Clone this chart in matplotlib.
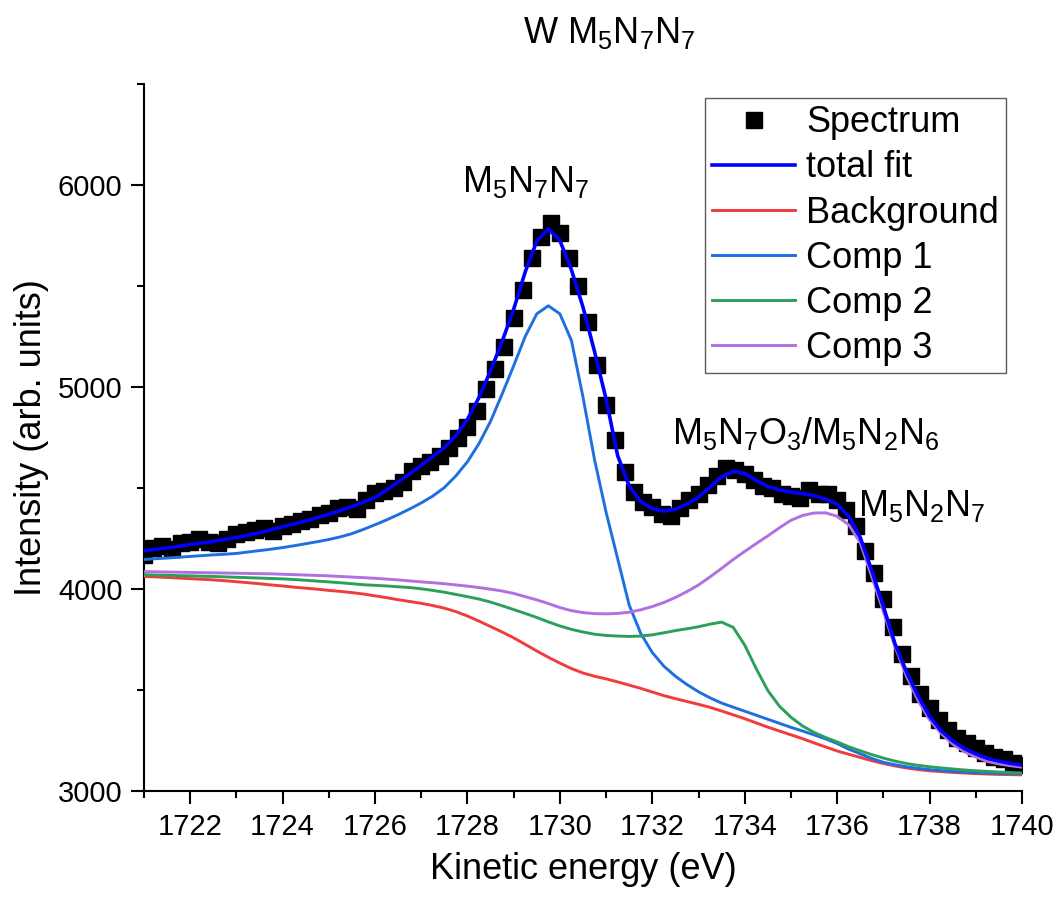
import matplotlib
matplotlib.use("Agg")
import matplotlib.pyplot as plt
import numpy as np

plt.rcParams['font.family'] = ['Liberation Sans', 'DejaVu Sans']
plt.rcParams['mathtext.default'] = 'regular'

# measured spectrum (0.2 eV steps)
energy_data = np.arange(1721.0, 1740.01, 0.2)
spectrum = [4170, 4205, 4215, 4200, 4230, 4235, 4245, 4235, 4230, 4245,
            4270, 4280, 4290, 4300, 4285, 4310, 4320, 4335, 4345, 4365,
            4375, 4400, 4405, 4395, 4440, 4475, 4485, 4500, 4530, 4585,
            4610, 4630, 4660, 4700, 4745, 4800, 4880, 4990, 5090, 5200,
            5340, 5480, 5640, 5740, 5810, 5760, 5640, 5500, 5320, 5110,
            4910, 4740, 4580, 4480, 4430, 4405, 4370, 4360, 4400, 4440,
            4470, 4515, 4560, 4600, 4590, 4570, 4540, 4510, 4500, 4470,
            4460, 4450, 4490, 4470, 4470, 4440, 4390, 4310, 4190, 4080,
            3950, 3810, 3680, 3570, 3480, 3410, 3350, 3300, 3260, 3240,
            3215, 3190, 3170, 3160, 3140, 3130]

# fit curves (0.25 eV steps)
energy_fit = np.arange(1721.0, 1740.01, 0.25)
total_fit = [4190, 4196, 4203, 4211, 4220, 4228, 4236, 4245, 4255, 4266,
             4278, 4293, 4308, 4322, 4337, 4353, 4370, 4388, 4408, 4430,
             4453, 4490, 4530, 4570, 4612, 4655, 4700, 4760, 4840, 4948,
             5080, 5225, 5385, 5570, 5722, 5782, 5725, 5580, 5395, 5175,
             4940, 4660, 4510, 4432, 4398, 4386, 4395, 4420, 4455, 4505,
             4555, 4582, 4572, 4537, 4508, 4490, 4480, 4472, 4462, 4445,
             4420, 4360, 4255, 4090, 3914, 3730, 3590, 3470, 3370, 3298,
             3248, 3210, 3184, 3162, 3148, 3137, 3128]
background = [4062, 4060, 4057, 4054, 4051, 4048, 4045, 4041, 4036, 4031,
              4026, 4020, 4015, 4009, 4004, 3999, 3993, 3988, 3982, 3975,
              3966, 3957, 3947, 3938, 3929, 3918, 3905, 3888, 3866, 3841,
              3814, 3787, 3758, 3726, 3693, 3662, 3633, 3606, 3584, 3568,
              3555, 3540, 3524, 3508, 3490, 3472, 3457, 3443, 3429, 3414,
              3396, 3377, 3358, 3337, 3316, 3297, 3278, 3259, 3238, 3218,
              3198, 3182, 3166, 3150, 3136, 3124, 3114, 3106, 3100, 3096,
              3092, 3089, 3086, 3084, 3082, 3081, 3080]
comp1 = [4146, 4150, 4153, 4157, 4161, 4165, 4169, 4172, 4176, 4183,
         4190, 4197, 4205, 4214, 4224, 4234, 4245, 4258, 4274, 4295,
         4318, 4342, 4368, 4396, 4426, 4460, 4502, 4560, 4630, 4720,
         4830, 4965, 5105, 5250, 5362, 5402, 5362, 5230, 4950, 4640,
         4380, 4150, 3920, 3780, 3685, 3618, 3568, 3527, 3491, 3461,
         3435, 3415, 3395, 3375, 3355, 3335, 3315, 3297, 3278, 3258,
         3235, 3207, 3184, 3161, 3142, 3130, 3120, 3112, 3106, 3101,
         3097, 3094, 3091, 3089, 3087, 3086, 3085]
comp2 = [4071, 4069, 4068, 4066, 4065, 4063, 4062, 4060, 4058, 4056,
         4054, 4052, 4050, 4047, 4043, 4039, 4035, 4031, 4026, 4021,
         4018, 4015, 4011, 4007, 4001, 3993, 3984, 3973, 3962, 3950,
         3935, 3917, 3898, 3879, 3859, 3837, 3817, 3800, 3787, 3776,
         3770, 3767, 3765, 3767, 3773, 3783, 3794, 3803, 3813, 3826,
         3836, 3810, 3722, 3605, 3497, 3420, 3365, 3322, 3290, 3265,
         3243, 3219, 3199, 3180, 3163, 3148, 3136, 3127, 3120, 3114,
         3109, 3104, 3100, 3097, 3094, 3091, 3089]
comp3 = [4086, 4085, 4084, 4083, 4082, 4081, 4080, 4079, 4078, 4077,
         4076, 4075, 4073, 4071, 4069, 4067, 4065, 4062, 4059, 4056,
         4053, 4049, 4045, 4040, 4035, 4031, 4026, 4020, 4014, 4007,
         3999, 3990, 3978, 3962, 3946, 3928, 3908, 3893, 3883, 3878,
         3877, 3879, 3885, 3897, 3913, 3933, 3958, 3987, 4020, 4060,
         4102, 4146, 4186, 4225, 4263, 4303, 4340, 4364, 4376, 4377,
         4360, 4318, 4228, 4060, 3888, 3715, 3568, 3448, 3352, 3285,
         3232, 3195, 3168, 3146, 3134, 3125, 3118]

fig = plt.figure(figsize=(10.57, 9.01), dpi=100)
ax = fig.add_axes([0.1362, 0.1221, 0.8307, 0.7847])

ax.plot(energy_data, spectrum, 's', color='black', markersize=11,
        label='Spectrum', zorder=2)
ax.plot(energy_fit, total_fit, color='#0000ff', lw=2.6, label='total fit', zorder=6)
ax.plot(energy_fit, background, color='#f03c3c', lw=2.1, label='Background', zorder=3)
ax.plot(energy_fit, comp1, color='#1f6fe0', lw=2.1, label='Comp 1', zorder=4)
ax.plot(energy_fit, comp2, color='#2ca05a', lw=2.1, label='Comp 2', zorder=4)
ax.plot(energy_fit, comp3, color='#b070e0', lw=2.1, label='Comp 3', zorder=5)

ax.set_xlim(1721, 1740)
ax.set_ylim(3000, 6500)
ax.set_xticks(np.arange(1722, 1741, 2))
ax.set_xticks(np.arange(1721, 1741, 1), minor=True)
ax.set_yticks([3000, 4000, 5000, 6000])
ax.set_yticks(np.arange(3000, 6501, 500), minor=True)

for s in ['top', 'right']:
    ax.spines[s].set_visible(False)
for s in ['left', 'bottom']:
    ax.spines[s].set_linewidth(1.5)
ax.tick_params(which='major', direction='out', length=9.5, width=1.5,
               labelsize=21, pad=6)
ax.tick_params(which='minor', direction='out', length=5, width=1.5)

ax.set_xlabel('Kinetic energy (eV)', fontsize=26, labelpad=8)
ax.set_ylabel('Intensity (arb. units)', fontsize=26, labelpad=6)

fig.text(609 / 1057, 1 - 43 / 901, 'W M$_5$N$_7$N$_7$', fontsize=26,
         ha='center', va='baseline')

ax.text(1729.25, 5965, 'M$_5$N$_7$N$_7$', fontsize=25.8, ha='center', va='baseline')
ax.text(1732.43, 4716, 'M$_5$N$_7$O$_3$/M$_5$N$_2$N$_6$', fontsize=25.8,
        ha='left', va='baseline')
ax.text(1736.45, 4359, 'M$_5$N$_2$N$_7$', fontsize=25.8, ha='left', va='baseline')

leg = ax.legend(loc='upper right', bbox_to_anchor=(0.982, 0.980),
                borderaxespad=0, fontsize=26, frameon=True, fancybox=False,
                handlelength=2.3, handletextpad=0.3, labelspacing=0.28,
                borderpad=0.2, markerscale=1.0)
leg.get_frame().set_edgecolor('#333333')
leg.get_frame().set_linewidth(1.0)

fig.savefig('out.png', dpi=100)
